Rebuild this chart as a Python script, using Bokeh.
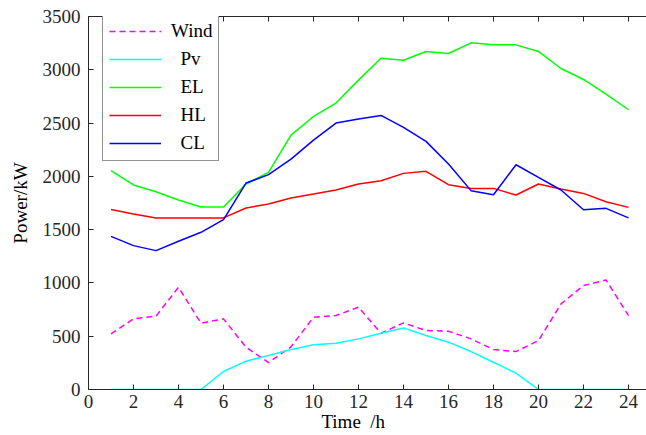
from bokeh.plotting import figure
from bokeh.models import (Legend, LegendItem, LinearAxis, FixedTicker, Range1d)
from bokeh.embed import file_html
from bokeh.resources import INLINE

hours = list(range(1, 25))
wind = [522, 663, 688, 959, 622, 663, 397, 253, 400, 678, 694, 772, 528, 625,
        553, 547, 475, 375, 356, 459, 803, 975, 1028, 694]
pv = [0, 0, 0, 0, 0, 169, 266, 319, 375, 419, 434, 475, 528, 578,
      506, 444, 356, 256, 153, 0, 0, 0, 0, 0]
el = [2053, 1919, 1856, 1778, 1713, 1713, 1928, 2037, 2387, 2562, 2688, 2903,
      3109, 3090, 3172, 3153, 3253, 3234, 3234, 3172, 3012, 2909, 2772, 2625]
hl = [1688, 1647, 1610, 1610, 1610, 1610, 1703, 1741, 1797, 1834, 1872, 1928,
      1959, 2028, 2047, 1922, 1887, 1887, 1825, 1928, 1881, 1840, 1762, 1709]
cl = [1437, 1350, 1303, 1391, 1475, 1594, 1937, 2016, 2162, 2340, 2500, 2538,
      2572, 2459, 2328, 2116, 1866, 1828, 2109, 1990, 1872, 1687, 1700, 1610]

series_names = ["Wind", "\u00a0\u00a0Pv", "\u00a0\u00a0EL", "\u00a0\u00a0HL", "\u00a0\u00a0CL"]
x_ticks = list(range(0, 25, 2))
y_ticks = list(range(0, 3501, 500))

FONT = "Liberation Serif"
FS = "19px"
AX = "#262626"

p = figure(width=646, height=435, output_backend="svg", toolbar_location=None,
           x_range=Range1d(0, 24.8), y_range=Range1d(0, 3500),
           x_axis_location=None, y_axis_location=None,
           min_border_left=88, min_border_right=0, min_border_top=16,
           min_border_bottom=46)
p.grid.visible = False
p.outline_line_color = None
p.background_fill_color = "white"
p.border_fill_color = "white"

xax = LinearAxis(ticker=FixedTicker(ticks=x_ticks), axis_label="Time\u00a0\u00a0/h" + "\u00a0" * 6,
                 axis_line_color=AX, major_tick_line_color=AX, major_tick_in=5,
                 major_tick_out=0, minor_tick_line_color=None,
                 major_label_text_font=FONT, major_label_text_font_size=FS,
                 major_label_text_color=AX, axis_label_text_font=FONT,
                 axis_label_text_font_size=FS, axis_label_text_font_style="normal",
                 axis_label_text_color="black", major_label_standoff=5,
                 axis_label_standoff=0)
yax = LinearAxis(ticker=FixedTicker(ticks=y_ticks), axis_label="Power/kW",
                 axis_line_color=AX, major_tick_line_color=AX, major_tick_in=5,
                 major_tick_out=0, minor_tick_line_color=None,
                 major_label_text_font=FONT, major_label_text_font_size=FS,
                 major_label_text_color=AX, axis_label_text_font=FONT,
                 axis_label_text_font_size=FS, axis_label_text_font_style="normal",
                 axis_label_text_color="black", major_label_standoff=8,
                 axis_label_standoff=9)
top = LinearAxis(ticker=FixedTicker(ticks=x_ticks), axis_line_color=AX,
                 major_tick_line_color=AX, major_tick_in=5, major_tick_out=0,
                 minor_tick_line_color=None, major_label_text_font=FONT,
                 major_label_text_font_size="1px", major_label_text_color=None,
                 major_label_standoff=0)
p.add_layout(xax, "below")
p.add_layout(yax, "left")
p.add_layout(top, "above")

lw = 1.5
r_wind = p.line(hours, wind, line_color="#FF00FF", line_width=lw, line_dash="6 4")
r_pv = p.line(hours, pv, line_color="#00FFFF", line_width=lw)
r_el = p.line(hours, el, line_color="#00FF00", line_width=lw)
r_hl = p.line(hours, hl, line_color="#FF0000", line_width=lw)
r_cl = p.line(hours, cl, line_color="#0000FF", line_width=lw)

items = [LegendItem(label=n, renderers=[r]) for n, r in
         zip(series_names, [r_wind, r_pv, r_el, r_hl, r_cl])]
legend = Legend(items=items, location=(14, 228), margin=0, padding=6, spacing=6,
                glyph_width=52, glyph_height=20, label_height=20,
                label_standoff=10, label_text_font=FONT, label_text_font_size=FS,
                label_text_color="black", border_line_color=AX,
                border_line_width=1, background_fill_color="white",
                background_fill_alpha=1)
p.add_layout(legend)

open("out.html", "w").write(file_html(p, INLINE))
